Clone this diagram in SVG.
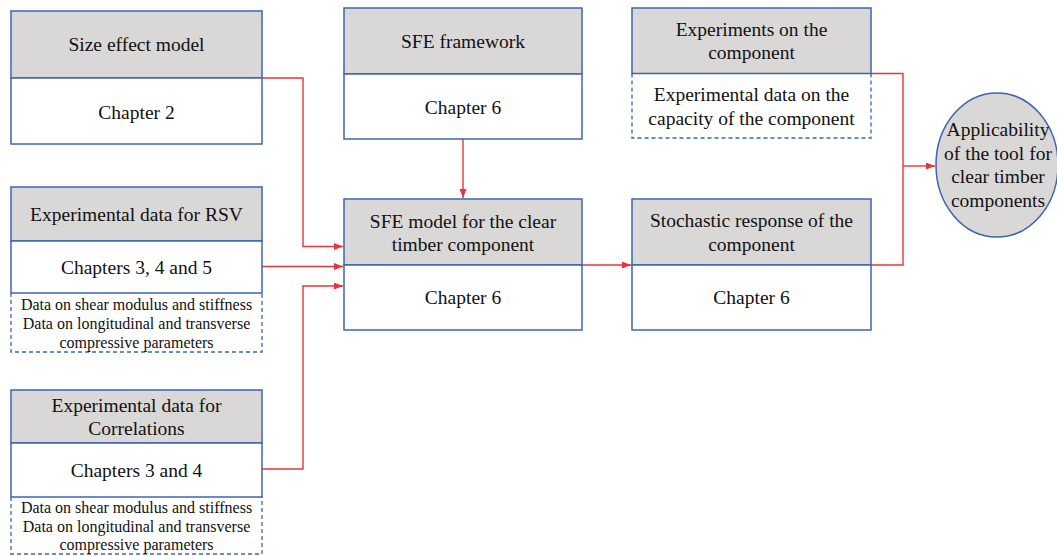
<svg xmlns="http://www.w3.org/2000/svg" width="1057" height="556" viewBox="0 0 1057 556">
<defs>
<style>
.hd{fill:#dad8d7;stroke:#3c64b4;stroke-width:1.5}
.bd{fill:#ffffff;stroke:#3c64b4;stroke-width:1.5}
.ds{fill:none;stroke:#3c64b4;stroke-width:1.3;stroke-dasharray:4,3}
.t{font-family:'Liberation Serif','Tinos','Noto Serif','DejaVu Serif',serif;font-size:19.5px;fill:#111;text-anchor:middle}
.s{font-family:'Liberation Serif','Tinos','Noto Serif','DejaVu Serif',serif;font-size:16px;fill:#111;text-anchor:middle}
.c{fill:none;stroke:#e8353a;stroke-width:1.4}
</style>
<marker id="ah" markerUnits="userSpaceOnUse" markerWidth="10" markerHeight="8" refX="9" refY="3.5" orient="auto">
<path d="M0,0 L9,3.5 L0,7 z" fill="#e8353a"/>
</marker>
</defs>
<rect width="1057" height="556" fill="#ffffff"/>

<g id="connectors">
<polyline class="c" points="262,78 303,78 303,246.5 343,246.5" marker-end="url(#ah)"/>
<polyline class="c" points="262,266.5 343,266.5" marker-end="url(#ah)"/>
<polyline class="c" points="262,469 303,469 303,286 343,286" marker-end="url(#ah)"/>
<polyline class="c" points="463,139 463,198" marker-end="url(#ah)"/>
<polyline class="c" points="582,265 631,265" marker-end="url(#ah)"/>
<polyline class="c" points="871,73.5 903,73.5 903,265 871,265"/>
<polyline class="c" points="903,166 935,166" marker-end="url(#ah)"/>
</g>

<g id="size-effect">
<rect class="hd" x="11" y="11" width="251" height="67"/>
<rect class="bd" x="11" y="78" width="251" height="66"/>
<text class="t" x="136.5" y="51" font-family="Liberation Serif">Size effect model</text>
<text class="t" x="136.5" y="119">Chapter 2</text>
</g>

<g id="rsv">
<rect class="hd" x="11" y="187" width="251" height="54"/>
<rect class="bd" x="11" y="241" width="251" height="52"/>
<text class="t" x="136.5" y="221">Experimental data for RSV</text>
<text class="t" x="136.5" y="274">Chapters 3, 4 and 5</text>
<polyline class="ds" points="11,293 11,352 262,352 262,293"/>
<text class="s" x="136.5" y="310">Data on shear modulus and stiffness</text>
<text class="s" x="136.5" y="329">Data on longitudinal and transverse</text>
<text class="s" x="136.5" y="348">compressive parameters</text>
</g>

<g id="correlations">
<rect class="hd" x="11" y="390" width="251" height="53"/>
<rect class="bd" x="11" y="443" width="251" height="54"/>
<text class="t" x="136.5" y="412">Experimental data for</text>
<text class="t" x="136.5" y="435">Correlations</text>
<text class="t" x="136.5" y="477">Chapters 3 and 4</text>
<polyline class="ds" points="11,497 11,554 262,554 262,497"/>
<text class="s" x="136.5" y="513">Data on shear modulus and stiffness</text>
<text class="s" x="136.5" y="532">Data on longitudinal and transverse</text>
<text class="s" x="136.5" y="550">compressive parameters</text>
</g>

<g id="sfe-framework">
<rect class="hd" x="344" y="8" width="238" height="66"/>
<rect class="bd" x="344" y="74" width="238" height="65"/>
<text class="t" x="463" y="48">SFE framework</text>
<text class="t" x="463" y="114">Chapter 6</text>
</g>

<g id="sfe-model">
<rect class="hd" x="344" y="199" width="238" height="66"/>
<rect class="bd" x="344" y="265" width="238" height="65"/>
<text class="t" x="463" y="228">SFE model for the clear</text>
<text class="t" x="463" y="251">timber component</text>
<text class="t" x="463" y="304">Chapter 6</text>
</g>

<g id="experiments">
<rect class="hd" x="632" y="8" width="239" height="65.5"/>
<polyline class="ds" points="632,73.5 632,138 871,138 871,73.5"/>
<text class="t" x="751.5" y="36">Experiments on the</text>
<text class="t" x="751.5" y="59">component</text>
<text class="t" x="751.5" y="101">Experimental data on the</text>
<text class="t" x="751.5" y="125">capacity of the component</text>
</g>

<g id="stochastic">
<rect class="hd" x="632" y="199" width="239" height="66"/>
<rect class="bd" x="632" y="265" width="239" height="65"/>
<text class="t" x="751.5" y="227">Stochastic response of the</text>
<text class="t" x="751.5" y="251">component</text>
<text class="t" x="751.5" y="304">Chapter 6</text>
</g>

<g id="applicability">
<ellipse class="hd" cx="997" cy="165" rx="61" ry="72"/>
<text class="t" x="998" y="136">Applicability</text>
<text class="t" x="998" y="160">of the tool for</text>
<text class="t" x="998" y="183">clear timber</text>
<text class="t" x="998" y="207">components</text>
</g>
</svg>
